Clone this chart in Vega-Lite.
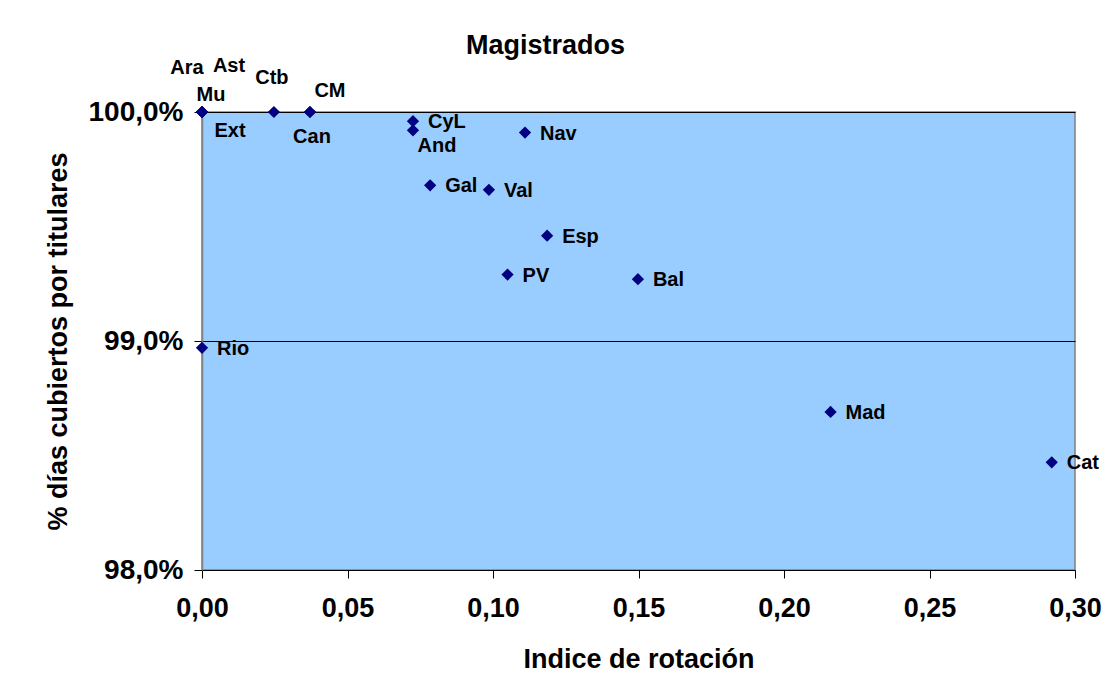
{
  "$schema": "https://vega.github.io/schema/vega-lite/v6.json",
  "autosize": {"type": "none"},
  "padding": {"left": 202, "top": 112, "right": 37, "bottom": 107},
  "width": 873,
  "height": 458,
  "background": "white",
  "config": {
    "font": "Liberation Sans",
    "locale": {"number": {"decimal": ",", "thousands": ".", "grouping": [3], "currency": ["", " €"]}},
    "view": {"fill": "#99CCFF", "stroke": "#808080", "strokeWidth": 1.5}
  },
  "title": {
    "text": "Magistrados",
    "fontSize": 27,
    "fontWeight": "bold",
    "color": "black",
    "anchor": "middle",
    "frame": "group",
    "dx": -93,
    "dy": 31,
    "baseline": "alphabetic",
    "offset": 6
  },
  "data": {
    "values": [
      {"name": "Ara", "rot": 0.0, "pct": 1.0},
      {"name": "Ast", "rot": 0.0, "pct": 1.0},
      {"name": "Mu", "rot": 0.0, "pct": 1.0},
      {"name": "Ext", "rot": 0.0, "pct": 1.0},
      {"name": "Ctb", "rot": 0.0247, "pct": 1.0},
      {"name": "CM", "rot": 0.0371, "pct": 1.0},
      {"name": "Can", "rot": 0.0371, "pct": 1.0},
      {"name": "CyL", "rot": 0.0725, "pct": 0.9996},
      {"name": "And", "rot": 0.0725, "pct": 0.9992},
      {"name": "Nav", "rot": 0.111, "pct": 0.9991},
      {"name": "Gal", "rot": 0.0784, "pct": 0.9968},
      {"name": "Val", "rot": 0.0986, "pct": 0.9966},
      {"name": "Esp", "rot": 0.1186, "pct": 0.9946},
      {"name": "PV", "rot": 0.105, "pct": 0.9929},
      {"name": "Bal", "rot": 0.1498, "pct": 0.9927},
      {"name": "Rio", "rot": 0.0, "pct": 0.9897},
      {"name": "Mad", "rot": 0.216, "pct": 0.9869},
      {"name": "Cat", "rot": 0.292, "pct": 0.9847}
    ]
  },
  "encoding": {
    "x": {
      "field": "rot", "type": "quantitative",
      "scale": {"domain": [0, 0.3], "nice": false, "zero": false},
      "axis": {
        "title": "Indice de rotación",
        "values": [0, 0.05, 0.1, 0.15, 0.2, 0.25, 0.3],
        "format": ".2f",
        "grid": false,
        "domainColor": "black",
        "domainWidth": 1,
        "tickColor": "black",
        "tickSize": 8,
        "labelFontSize": 27,
        "labelFontWeight": "bold",
        "labelColor": "black",
        "labelPadding": 17,
        "labelFlush": false,
        "labelOverlap": false,
        "titleFontSize": 27,
        "titleFontWeight": "bold",
        "titleColor": "black",
        "titlePadding": 25
      }
    },
    "y": {
      "field": "pct", "type": "quantitative",
      "scale": {"domain": [0.98, 1.0], "nice": false, "zero": false},
      "axis": {
        "title": "% días cubiertos por titulares",
        "values": [0.98, 0.99, 1.0],
        "format": ".1%",
        "grid": true,
        "gridColor": "black",
        "gridWidth": 1,
        "domainColor": "#808080",
        "domainWidth": 1.5,
        "tickColor": "black",
        "tickSize": 8,
        "labelFontSize": 28,
        "labelFontWeight": "bold",
        "labelColor": "black",
        "labelPadding": 11,
        "labelFlush": false,
        "labelOverlap": false,
        "titleFontSize": 27,
        "titleFontWeight": "bold",
        "titleColor": "black",
        "titlePadding": 16
      }
    }
  },
  "layer": [
    {
      "mark": {"type": "point", "shape": "diamond", "filled": true, "color": "#000080", "opacity": 1, "size": 150, "clip": false}
    },
    {
      "transform": [{"filter": "indexof(['Ara','Ast','Mu','Ext','Ctb','CM','Can','And'], datum.name) < 0"}],
      "mark": {"type": "text", "align": "left", "baseline": "middle", "dx": 15, "dy": 1, "fontSize": 20, "fontWeight": "bold", "color": "black", "clip": false},
      "encoding": {"text": {"field": "name"}}
    },
    {
      "transform": [{"filter": "datum.name === 'Ara'"}],
      "mark": {"type": "text", "align": "center", "baseline": "middle", "dx": -15, "dy": -44, "fontSize": 20, "fontWeight": "bold", "color": "black", "clip": false},
      "encoding": {"text": {"field": "name"}}
    },
    {
      "transform": [{"filter": "datum.name === 'Ast'"}],
      "mark": {"type": "text", "align": "center", "baseline": "middle", "dx": 27, "dy": -46, "fontSize": 20, "fontWeight": "bold", "color": "black", "clip": false},
      "encoding": {"text": {"field": "name"}}
    },
    {
      "transform": [{"filter": "datum.name === 'Mu'"}],
      "mark": {"type": "text", "align": "center", "baseline": "middle", "dx": 9, "dy": -17, "fontSize": 20, "fontWeight": "bold", "color": "black", "clip": false},
      "encoding": {"text": {"field": "name"}}
    },
    {
      "transform": [{"filter": "datum.name === 'Ext'"}],
      "mark": {"type": "text", "align": "center", "baseline": "middle", "dx": 28, "dy": 19, "fontSize": 20, "fontWeight": "bold", "color": "black", "clip": false},
      "encoding": {"text": {"field": "name"}}
    },
    {
      "transform": [{"filter": "datum.name === 'Ctb'"}],
      "mark": {"type": "text", "align": "center", "baseline": "middle", "dx": -2, "dy": -34, "fontSize": 20, "fontWeight": "bold", "color": "black", "clip": false},
      "encoding": {"text": {"field": "name"}}
    },
    {
      "transform": [{"filter": "datum.name === 'CM'"}],
      "mark": {"type": "text", "align": "center", "baseline": "middle", "dx": 20, "dy": -21, "fontSize": 20, "fontWeight": "bold", "color": "black", "clip": false},
      "encoding": {"text": {"field": "name"}}
    },
    {
      "transform": [{"filter": "datum.name === 'Can'"}],
      "mark": {"type": "text", "align": "center", "baseline": "middle", "dx": 2, "dy": 25, "fontSize": 20, "fontWeight": "bold", "color": "black", "clip": false},
      "encoding": {"text": {"field": "name"}}
    },
    {
      "transform": [{"filter": "datum.name === 'And'"}],
      "mark": {"type": "text", "align": "center", "baseline": "middle", "dx": 24, "dy": 16, "fontSize": 20, "fontWeight": "bold", "color": "black", "clip": false},
      "encoding": {"text": {"field": "name"}}
    }
  ]
}
